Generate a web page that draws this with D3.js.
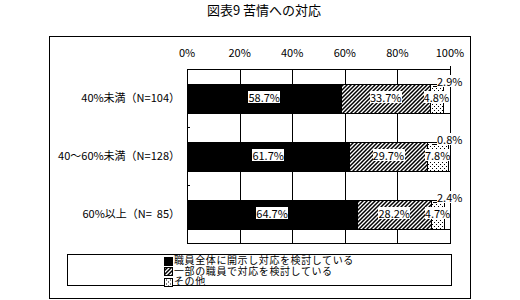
<!DOCTYPE html>
<style>
  body { margin: 0; background: white; }
  svg { font-family: "Noto Sans CJK JP", sans-serif; }
  text { white-space: pre; }
</style>
<body>
</body>
<script src="https://cdn.jsdelivr.net/npm/d3@7"></script>
<script>
  const categories = ['40%未満（N=104）', '40～60%未満（N=128）', '60%以上（N=  85）'];
  const seriesNames = ['職員全体に開示し対応を検討している', '一部の職員で対応を検討している', 'その他', '無回答'];
  const allStaff = [58.7, 61.7, 64.7];
  const someStaff = [33.7, 29.7, 28.2];
  const other = [4.8, 7.8, 4.7];
  const noAnswer = [2.9, 0.8, 2.4];
  const ticks = [0, 20, 40, 60, 80, 100];
  const fmt = v => v.toFixed(1) + '%';

  const w = 520, h = 300;
  const svg = d3.select('body').append('svg')
    .attr('width', w).attr('height', h);

  const defs = svg.append('defs');
  const hatch = defs.append('pattern').attr('id', 'hatch')
    .attr('patternUnits', 'userSpaceOnUse').attr('width', 4).attr('height', 4);
  hatch.append('rect').attr('width', 4).attr('height', 4).attr('fill', 'white');
  hatch.append('path').attr('d', 'M-1,1 l2,-2 M0,4 l4,-4 M3,5 l2,-2')
    .attr('stroke', 'black').attr('stroke-width', 1.5);
  const dots = defs.append('pattern').attr('id', 'dots')
    .attr('patternUnits', 'userSpaceOnUse').attr('width', 4).attr('height', 4);
  dots.append('rect').attr('width', 4).attr('height', 4).attr('fill', 'white');
  dots.append('rect').attr('x', 0).attr('y', 0).attr('width', 1).attr('height', 1).attr('fill', 'black');
  dots.append('rect').attr('x', 2).attr('y', 2).attr('width', 1).attr('height', 1).attr('fill', 'black');
  const fills = ['black', 'url(#hatch)', 'url(#dots)', 'white'];

  // title and outer frame
  svg.append('text').attr('x', 264).attr('y', 15).attr('text-anchor', 'middle')
    .attr('font-size', 13).text('図表9 苦情への対応');
  svg.append('rect').attr('x', 49.5).attr('y', 36.5).attr('width', 421).attr('height', 262)
    .attr('fill', 'none').attr('stroke', 'black').attr('shape-rendering', 'crispEdges');

  const x = d3.scaleLinear().domain([0, 100]).range([187, 450]);
  const y = d3.scaleBand().domain(categories).range([69, 243])
    .paddingInner(0.5).paddingOuter(0.25);

  const g = svg.append('g').attr('shape-rendering', 'crispEdges');

  // plot box + gridlines
  g.append('rect').attr('x', x(0) + 0.5).attr('y', 69.5)
    .attr('width', x(100) - x(0)).attr('height', 174)
    .attr('fill', 'none').attr('stroke', 'black');
  g.selectAll('.grid').data(ticks.slice(1, -1)).join('line')
    .attr('x1', d => Math.round(x(d)) + 0.5).attr('x2', d => Math.round(x(d)) + 0.5)
    .attr('y1', 69).attr('y2', 243).attr('stroke', 'black');
  g.append('line').attr('x1', x(100) + 0.5).attr('x2', x(100) + 0.5)
    .attr('y1', 66).attr('y2', 69).attr('stroke', 'black');
  [1, 2].forEach(i => {
    const yy = Math.round(y(categories[i]) - y.step() * 0.25) + 0.5;
    g.append('line').attr('x1', x(0)).attr('x2', x(0) + 3)
      .attr('y1', yy).attr('y2', yy).attr('stroke', 'black');
  });

  svg.selectAll('.tick').data(ticks).join('text')
    .attr('x', d => x(d)).attr('y', 57).attr('text-anchor', 'middle')
    .attr('font-size', 11).text(d => d + '%');

  svg.selectAll('.cat').data(categories).join('text')
    .attr('x', 180).attr('y', d => y(d) + y.bandwidth() / 2)
    .attr('dy', '0.35em').attr('text-anchor', 'end')
    .attr('font-size', 11).text(d => d);

  // stacked segments
  const series = [allStaff, someStaff, other, noAnswer];
  const segs = [];
  categories.forEach((c, i) => {
    let acc = 0;
    series.forEach((s, k) => {
      segs.push({cat: c, k, v: s[i], x0: acc, x1: acc + s[i]});
      acc += s[i];
    });
  });

  g.selectAll('.seg').data(segs).join('rect')
    .attr('x', d => Math.round(x(d.x0)) + 0.5)
    .attr('y', d => Math.round(y(d.cat)) + 0.5)
    .attr('width', d => Math.max(0, Math.round(x(Math.min(d.x1, 100))) - Math.round(x(d.x0))))
    .attr('height', Math.round(y.bandwidth()))
    .attr('fill', d => fills[d.k]).attr('stroke', 'black');

  // value labels with white boxes
  const labels = svg.append('g');
  segs.forEach(d => {
    const lg = labels.append('g');
    let tx, ty, anchor;
    if (d.k < 3) {
      tx = (x(d.x0) + x(Math.min(d.x1, 100))) / 2;
      ty = y(d.cat) + y.bandwidth() / 2;
      anchor = 'middle';
    } else {
      tx = x(100) - 13;
      ty = y(d.cat) - 1;
      anchor = 'start';
      lg.append('line').attr('x1', tx - 4).attr('x2', tx)
        .attr('y1', ty + 3.5).attr('y2', ty + 3.5).attr('stroke', 'black')
        .attr('shape-rendering', 'crispEdges');
    }
    const t = lg.append('text').attr('x', tx).attr('y', ty).attr('dy', '0.35em')
      .attr('text-anchor', anchor).attr('font-size', 11).text(fmt(d.v));
    const bb = t.node().getBBox();
    lg.insert('rect', 'text')
      .attr('x', Math.round(bb.x)).attr('y', Math.round(bb.y + 2))
      .attr('width', Math.round(bb.width)).attr('height', Math.round(bb.height - 4))
      .attr('fill', 'white');
  });

  // legend
  svg.append('rect').attr('x', 67.5).attr('y', 254.5).attr('width', 384).attr('height', 31)
    .attr('fill', 'white').attr('stroke', 'black').attr('shape-rendering', 'crispEdges');
  const legend = svg.selectAll('.leg').data(seriesNames.slice(0, 3)).join('g')
    .attr('transform', (d, i) => `translate(164, ${260.5 + i * 10.5})`);
  legend.append('rect').attr('x', 0.5).attr('y', -3.5).attr('width', 8).attr('height', 8)
    .attr('fill', (d, i) => fills[i]).attr('stroke', 'black').attr('shape-rendering', 'crispEdges');
  legend.append('text').attr('x', 10).attr('dy', '0.35em')
    .attr('font-size', 10).attr('letter-spacing', 0.6).text(d => d);
</script>
